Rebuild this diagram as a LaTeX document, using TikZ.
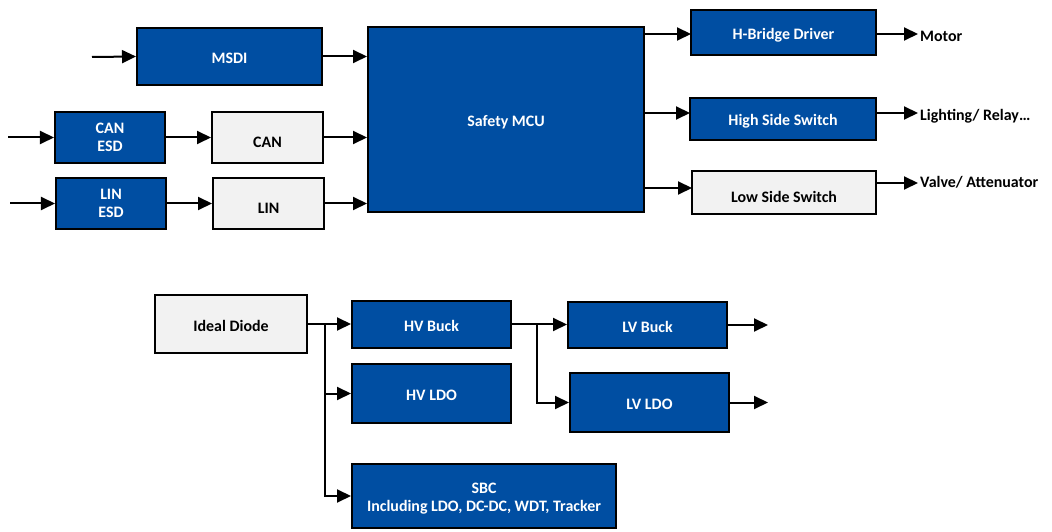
\documentclass[tikz,border=0pt]{standalone}
\usepackage{fontspec}
\setmainfont{Carlito}
\usetikzlibrary{arrows.meta}
\definecolor{tiblue}{HTML}{004EA2}
\definecolor{lightbox}{HTML}{F2F2F2}
\begin{document}
\begin{tikzpicture}[x=1bp,y=-1bp,
  bx/.style={draw=black, line width=2bp, inner sep=0pt, align=center,
    text height=16bp, text depth=2bp,
    font=\fontsize{16}{18}\selectfont\bfseries},
  bluebox/.style={bx, fill=tiblue, text=white},
  graybox/.style={bx, fill=lightbox, text=black},
  lowtext/.style={text height=22bp, text depth=2bp},
  multi/.style={text height={}, text depth={}},
  lbl/.style={font=\fontsize{16}{18}\selectfont\bfseries, inner sep=2bp, anchor=west,
    text height=11bp, text depth=2bp},
  arr/.style={line width=2bp, -{Triangle[length=14bp,width=13bp]}},
  ln/.style={line width=2bp}]
\useasboundingbox (0,0) rectangle (1052,532);
% top section
\node[bluebox, minimum width=185bp, minimum height=57bp] (msdi) at (229.5,56.5) {MSDI};
\node[bluebox, multi, minimum width=110bp, minimum height=51bp] (canesd) at (110,137.5) {CAN\\ESD};
\node[graybox, lowtext, minimum width=111bp, minimum height=51bp] (can) at (267.5,137.5) {CAN};
\node[bluebox, multi, minimum width=110bp, minimum height=51bp] (linesd) at (111,203.5) {LIN\\ESD};
\node[graybox, lowtext, minimum width=111bp, minimum height=51bp] (lin) at (268.5,203.5) {LIN};
\node[bluebox, minimum width=276bp, minimum height=185bp] (mcu) at (506,119.5) {Safety MCU};
\node[bluebox, minimum width=185bp, minimum height=45bp] (hb) at (783.5,32.5) {H-Bridge Driver};
\node[bluebox, minimum width=186bp, minimum height=42bp] (hss) at (783,119) {High Side Switch};
\node[graybox, lowtext, minimum width=184bp, minimum height=43bp] (lss) at (784,192.5) {Low Side Switch};
\node[lbl] (motor) at (918,37) {Motor};
\node[lbl] (light) at (918,116) {Lighting/ Relay…};
\node[lbl] (valve) at (918,183) {Valve/ Attenuator};
\coordinate (in1) at (92,57);
\coordinate (in2) at (8,137.5);
\coordinate (in3) at (10,203.5);
\coordinate (hbin) at (691,34);
\coordinate (hssin) at (690,113);
\coordinate (lssin) at (692,188);
\draw[arr] (in1) -- (msdi.west);
\draw[arr] (in2) -- (canesd.west);
\draw[arr] (in3) -- (linesd.west);
\draw[arr] (msdi.east) -- (msdi.east -| mcu.west);
\draw[arr] (canesd.east) -- (can.west);
\draw[arr] (can.east) -- (can.east -| mcu.west);
\draw[arr] (linesd.east) -- (lin.west);
\draw[arr] (lin.east) -- (lin.east -| mcu.west);
\draw[arr] (hbin -| mcu.east) -- (hbin);
\draw[arr] (hssin -| mcu.east) -- (hssin);
\draw[arr] (lssin -| mcu.east) -- (lssin);
\draw[arr] (hbin -| hb.east) -- (hbin -| motor.west);
\draw[arr] (hssin -| hss.east) -- (hssin -| light.west);
\coordinate (vout) at (918,183);
\draw[arr] (vout -| lss.east) -- (vout);
% bottom section
\node[graybox, minimum width=152bp, minimum height=58bp] (diode) at (231,324) {Ideal Diode};
\node[bluebox, minimum width=159bp, minimum height=47bp] (hvbuck) at (431.5,324.5) {HV Buck};
\node[bluebox, minimum width=159bp, minimum height=59bp] (hvldo) at (431.5,393.5) {HV LDO};
\node[bluebox, multi, minimum width=264bp, minimum height=64bp] (sbc) at (484,496) {\rule{0pt}{15bp}SBC\\Including LDO, DC-DC, WDT, Tracker};
\node[bluebox, minimum width=159bp, minimum height=46bp] (lvbuck) at (647.5,325) {LV Buck};
\node[bluebox, minimum width=159bp, minimum height=59bp] (lvldo) at (649.5,402.5) {LV LDO};
\coordinate (b1) at (325,324);
\coordinate (b2) at (537,324);
\coordinate (o1) at (768,324);
\coordinate (o2) at (768,402.5);
\draw[arr] (diode.east) -- (diode.east -| hvbuck.west);
\draw[arr] (b1) |- (hvldo.west);
\draw[arr] (b1) |- (sbc.west);
\draw[arr] (hvbuck.east) -- (hvbuck.east -| lvbuck.west);
\draw[arr] (b2) |- (lvldo.west);
\draw[arr] (lvbuck.east) -- (lvbuck.east -| o1);
\draw[arr] (lvldo.east) -- (o2);
\end{tikzpicture}
\end{document}
